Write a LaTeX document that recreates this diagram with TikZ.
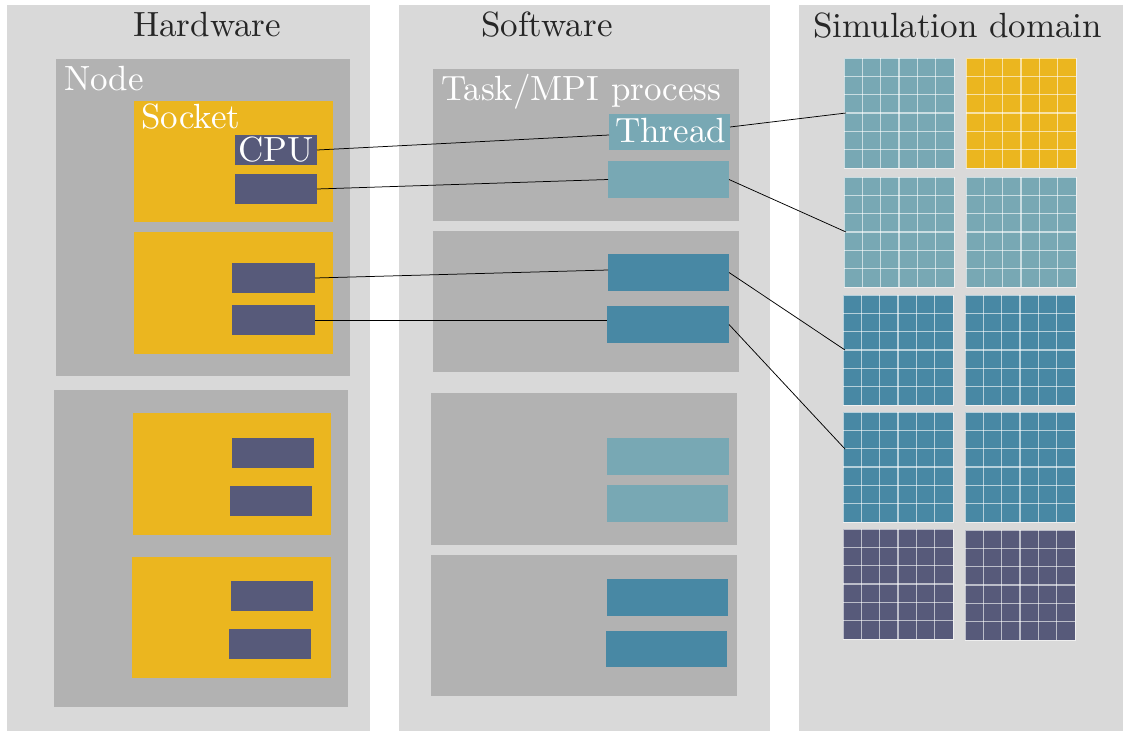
\documentclass[tikz,border=0pt]{standalone}
\usepackage{fontspec}
\setmainfont{lmroman10-regular.otf}
\definecolor{panel}{HTML}{D9D9D9}
\definecolor{inner}{HTML}{B2B2B2}
\definecolor{socket}{HTML}{EBB61F}
\definecolor{slate}{HTML}{575A7A}
\definecolor{tealL}{HTML}{78A8B4}
\definecolor{tealD}{HTML}{4888A4}
\definecolor{titlegray}{HTML}{262626}
\newcommand\lbfont{\fontsize{35}{42}\selectfont}
\tikzset{
  blk/.style={anchor=north west, inner sep=0pt, outer sep=0pt, draw=none, rectangle},
  lbl/.style={anchor=base west, inner sep=0pt, font=\lbfont, text=white},
  title/.style={lbl, text=titlegray},
  link/.style={line width=0.75pt, black},
  gridln/.style={white, opacity=0.6, line width=1.4pt},
}
% \rbox{name}{x1}{y1}{x2}{y2}{colour}
\newcommand\rbox[6]{%
  \node[blk, fill=#6, minimum width={(#4)-(#2)}, minimum height={(#5)-(#3)}] (#1) at (#2,#3) {};}
% \simgrid{name}{x}{y}{colour}: a 6x6 block of cells
\newcommand\simgrid[4]{%
  \rbox{#1}{#2}{#3}{#2+110}{#3+110}{#4}
  \foreach \k in {1,...,5}{
    \draw[gridln] (#2+\k*110/6,#3) -- (#2+\k*110/6,#3+110);
    \draw[gridln] (#2,#3+\k*110/6) -- (#2+110,#3+\k*110/6);
  }
  \draw[gridln, line width=0.6pt] (#1.north west) rectangle (#1.south east);
}
\begin{document}
\begin{tikzpicture}[x=1pt, y=-1pt]
\useasboundingbox[fill=white] (0,0) rectangle (1123,731);

% three columns
\rbox{hw}{7}{5}{370}{731}{panel}
\rbox{sw}{399}{5}{770}{731}{panel}
\rbox{sim}{799}{5}{1123}{731}{panel}
\node[title] (hwt) at (133,36) {Hardware};
\node[title] (swt) at (481,36) {Software};
\node[title] (simt) at (813,37) {Simulation domain};

% hardware: nodes, sockets, CPUs
\rbox{node1}{56}{59}{350}{376}{inner}
\rbox{sock1}{134}{101}{333}{222}{socket}
\rbox{cpu11}{235}{135}{317}{165}{slate}
\rbox{cpu12}{235}{174}{317}{204}{slate}
\rbox{sock2}{134}{232}{333}{354}{socket}
\rbox{cpu21}{232}{263}{315}{293}{slate}
\rbox{cpu22}{232}{305}{315}{335}{slate}
\rbox{node2}{54}{390}{348}{707}{inner}
\rbox{sock3}{133}{413}{331}{535}{socket}
\rbox{cpu31}{232}{438}{314}{468}{slate}
\rbox{cpu32}{230}{486}{312}{516}{slate}
\rbox{sock4}{132}{557}{331}{678}{socket}
\rbox{cpu41}{231}{581}{313}{611}{slate}
\rbox{cpu42}{229}{629}{311}{659}{slate}
\node[lbl] (nodel) at (64,90) {Node};
\node[lbl] (sockl) at (141,128) {Socket};
\node[lbl] (cpul) at (238,161) {CPU};

% software: tasks and threads
\rbox{task1}{433}{69}{739}{221}{inner}
\rbox{thr1}{609}{114}{730}{150}{tealL}
\rbox{thr2}{608}{161}{729}{198}{tealL}
\rbox{task2}{433}{231}{739}{372}{inner}
\rbox{thr3}{608}{254}{729}{291}{tealD}
\rbox{thr4}{607}{306}{729}{343}{tealD}
\rbox{task3}{431}{393}{737}{545}{inner}
\rbox{thr5}{607}{438}{729}{475}{tealL}
\rbox{thr6}{607}{485}{728}{522}{tealL}
\rbox{task4}{431}{555}{737}{696}{inner}
\rbox{thr7}{607}{579}{728}{616}{tealD}
\rbox{thr8}{606}{631}{727}{667}{tealD}
\node[lbl] (taskl) at (441,100) {Task/MPI process};
\node[lbl] (thrl) at (615,142) {Thread};

% simulation domain: blocks of cells
\simgrid{g1a}{844}{58}{tealL}
\simgrid{g1b}{966}{58}{socket}
\simgrid{g2a}{844}{177}{tealL}
\simgrid{g2b}{966}{177}{tealL}
\simgrid{g3a}{843}{295}{tealD}
\simgrid{g3b}{965}{295}{tealD}
\simgrid{g4a}{843}{412}{tealD}
\simgrid{g4b}{965}{412}{tealD}
\simgrid{g5a}{843}{529}{slate}
\simgrid{g5b}{965}{530}{slate}
\coordinate (g4in) at (845,449);

% mapping CPU -> thread -> block
\draw[link] (cpu11.east) -- ([yshift=-3pt]thr1.west);
\draw[link] ([yshift=5pt]thr1.east) -- ([xshift=2pt]g1a.west);
\draw[link] (cpu12.east) -- (thr2.west);
\draw[link] (thr2.east) -- ([xshift=2pt]g2a.west);
\draw[link] (cpu21.east) -- ([yshift=2.5pt]thr3.west);
\draw[link] (thr3.east) -- ([xshift=2pt]g3a.west);
\draw[link] (cpu22.east) -- ([yshift=4.5pt]thr4.west);
\draw[link] (thr4.east) -- (g4in);
\end{tikzpicture}
\end{document}
